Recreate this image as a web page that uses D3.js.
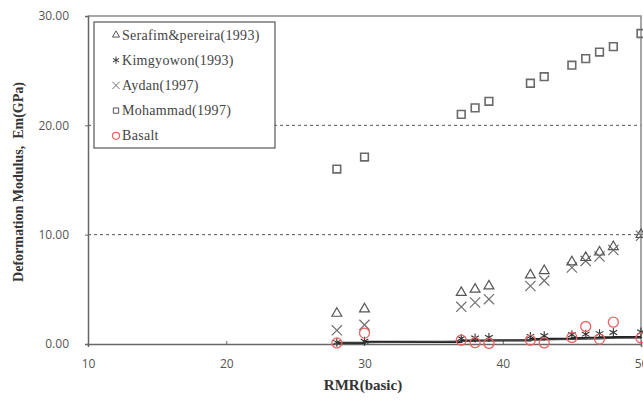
<!DOCTYPE html>
<html>
<head>
<meta charset="utf-8">
<script src="https://cdn.jsdelivr.net/npm/d3@7"></script>
<style>
  body { margin: 0; background: #fff; }
</style>
</head>
<body>
<div id="chart"></div>
<script>
// ---- DATA ----------------------------------------------------------
var rmr = [28, 30, 37, 38, 39, 42, 43, 45, 46, 47, 48, 50];
var serafim = [2.8, 3.2, 4.7, 5.0, 5.3, 6.3, 6.7, 7.5, 7.9, 8.4, 8.9, 10.0];
var kimgyowon = [0.15, 0.25, 0.5, 0.55, 0.6, 0.7, 0.75, 0.85, 0.9, 0.95, 1.05, 1.1];
var aydan = [1.25, 1.75, 3.4, 3.8, 4.1, 5.3, 5.8, 7.0, 7.6, 8.0, 8.6, 9.9];
var mohammad = [16.0, 17.1, 21.0, 21.6, 22.2, 23.85, 24.45, 25.5, 26.1, 26.7, 27.2, 28.4];
var basalt = [0.1, 1.0, 0.35, 0.12, 0.05, 0.35, 0.1, 0.6, 1.6, 0.45, 2.0, 0.55];
var trend = [0.1, 0.2, 0.3, 0.32, 0.34, 0.45, 0.47, 0.55, 0.57, 0.6, 0.62, 0.65];
var xTicks = [10, 20, 30, 40, 50];
var yTicks = [0, 10, 20, 30];
var legendNames = ["Serafim&pereira(1993)", "Kimgyowon(1993)", "Aydan(1997)", "Mohammad(1997)", "Basalt"];

// ---- VARIABLES -----------------------------------------------------
var w = 643, h = 400;
var m = { left: 88, right: 2, top: 16, bottom: 56 };

var xScale = d3.scaleLinear().domain([10, 50]).range([m.left, w - m.right]);
var yScale = d3.scaleLinear().domain([0, 30]).range([h - m.bottom, m.top]);

var svg = d3.select("#chart").append("svg")
  .attr("width", w).attr("height", h);

// dashed gridlines
svg.selectAll(".grid")
  .data(yTicks.filter(function(d) { return d > 0 && d < 30; }))
  .enter().append("line")
  .attr("x1", m.left).attr("x2", w - m.right)
  .attr("y1", function(d) { return yScale(d); })
  .attr("y2", function(d) { return yScale(d); })
  .attr("stroke", "#555").attr("stroke-width", 1)
  .attr("stroke-dasharray", "3,3");

// plot border (top/right)
svg.append("path")
  .attr("d", "M" + m.left + "," + yScale(30) + "H" + xScale(50) + "V" + yScale(0))
  .attr("fill", "none").attr("stroke", "#8a8a8a").attr("stroke-width", 1.5);

// axes
var xAxis = d3.axisBottom(xScale).tickValues(xTicks).tickSize(3).tickPadding(12)
  .tickFormat(d3.format("d"));
var yAxis = d3.axisLeft(yScale).tickValues(yTicks).tickSize(3).tickPadding(16)
  .tickFormat(d3.format(".2f"));

var gx = svg.append("g").attr("transform", "translate(0," + yScale(0) + ")").call(xAxis);
var gy = svg.append("g").attr("transform", "translate(" + m.left + ",0)").call(yAxis);
[gx, gy].forEach(function(g) {
  g.select(".domain").attr("stroke", "#666").attr("stroke-width", 1.5);
  g.selectAll(".tick line").attr("stroke", "#666");
  g.selectAll(".tick text").attr("fill", "#555")
    .style("font-family", "'Open Sans', sans-serif").style("font-size", "12px");
});
gx.selectAll(".tick line").attr("y2", -3);

// axis titles
svg.append("text")
  .attr("x", 363).attr("y", 390)
  .attr("text-anchor", "middle")
  .style("font-family", "'Liberation Serif', serif").style("font-weight", "bold")
  .style("font-size", "15px").attr("fill", "#333")
  .text("RMR(basic)");

svg.append("text")
  .attr("transform", "translate(23,182) rotate(-90)")
  .attr("text-anchor", "middle")
  .style("font-family", "'Liberation Serif', serif").style("font-weight", "bold")
  .style("font-size", "14px").attr("fill", "#333")
  .attr("xml:space", "preserve")
  .text("Deformation Modulus,  Em(GPa)");

// ---- MARKERS -------------------------------------------------------
var timesType = d3.symbolTimes || d3.symbolX;
var symTri = d3.symbol().type(d3.symbolTriangle2 || d3.symbolTriangle).size(70);
var symTimes = d3.symbol().type(timesType).size(70);
var symAst = d3.symbol().type(d3.symbolAsterisk).size(55);
var symSq = d3.symbol().type(d3.symbolSquare2 || d3.symbolSquare).size(75);

function toPts(vals) {
  return rmr.map(function(r, i) { return { x: r, y: vals[i] }; });
}

// trend lines at the bottom
var line = d3.line()
  .x(function(d) { return xScale(d.x); })
  .y(function(d) { return yScale(d.y); });
svg.append("path").datum(toPts(trend))
  .attr("d", line.curve(d3.curveStepAfter)).attr("fill", "none")
  .attr("stroke", "#222").attr("stroke-width", 2.2);
svg.append("path").datum(toPts(kimgyowon.map(function(v) { return v * 0.5; })))
  .attr("d", d3.line().x(function(d) { return xScale(d.x); }).y(function(d) { return yScale(d.y); }))
  .attr("fill", "none").attr("stroke", "#444").attr("stroke-width", 1.2);

function drawSeries(vals, gen, color, sw) {
  svg.append("g").selectAll("path")
    .data(toPts(vals))
    .enter().append("path")
    .attr("transform", function(d) { return "translate(" + xScale(d.x) + "," + yScale(d.y) + ")"; })
    .attr("d", gen)
    .attr("fill", "none").attr("stroke", color).attr("stroke-width", sw);
}

drawSeries(mohammad, symSq, "#6a6a6a", 1.6);
drawSeries(aydan, symTimes, "#707070", 1.2);
drawSeries(serafim, symTri, "#555", 1.2);
drawSeries(kimgyowon, symAst, "#333", 1.1);

svg.append("g").selectAll("circle")
  .data(toPts(basalt))
  .enter().append("circle")
  .attr("cx", function(d) { return xScale(d.x); })
  .attr("cy", function(d) { return yScale(d.y); })
  .attr("r", 5)
  .attr("fill", "none").attr("stroke", "#f06060").attr("stroke-width", 1.3);

// ---- LEGEND --------------------------------------------------------
var lg = svg.append("g");
lg.append("rect")
  .attr("x", 94).attr("y", 22).attr("width", 181).attr("height", 126)
  .attr("fill", "#fff").attr("stroke", "#555").attr("stroke-width", 1.2);

var legendGens = [symTri, symAst, symTimes, symSq, null];
var legendColors = ["#555", "#333", "#707070", "#555", "#f06060"];
legendNames.forEach(function(name, i) {
  var cy = 35 + i * 25.2;
  if (legendGens[i]) {
    lg.append("path")
      .attr("transform", "translate(116," + cy + ")")
      .attr("d", d3.symbol().type(legendGens[i].type()).size(36)())
      .attr("fill", "none").attr("stroke", legendColors[i]).attr("stroke-width", 1);
  } else {
    lg.append("circle").attr("cx", 116).attr("cy", cy).attr("r", 3.5)
      .attr("fill", "none").attr("stroke", legendColors[i]).attr("stroke-width", 1.2);
  }
  lg.append("text")
    .attr("x", 122).attr("y", cy + 4.5)
    .style("font-family", "'Liberation Serif', serif").style("font-size", "14px")
    .style("letter-spacing", "0.3px")
    .attr("fill", "#444")
    .text(name);
});
</script>
</body>
</html>
